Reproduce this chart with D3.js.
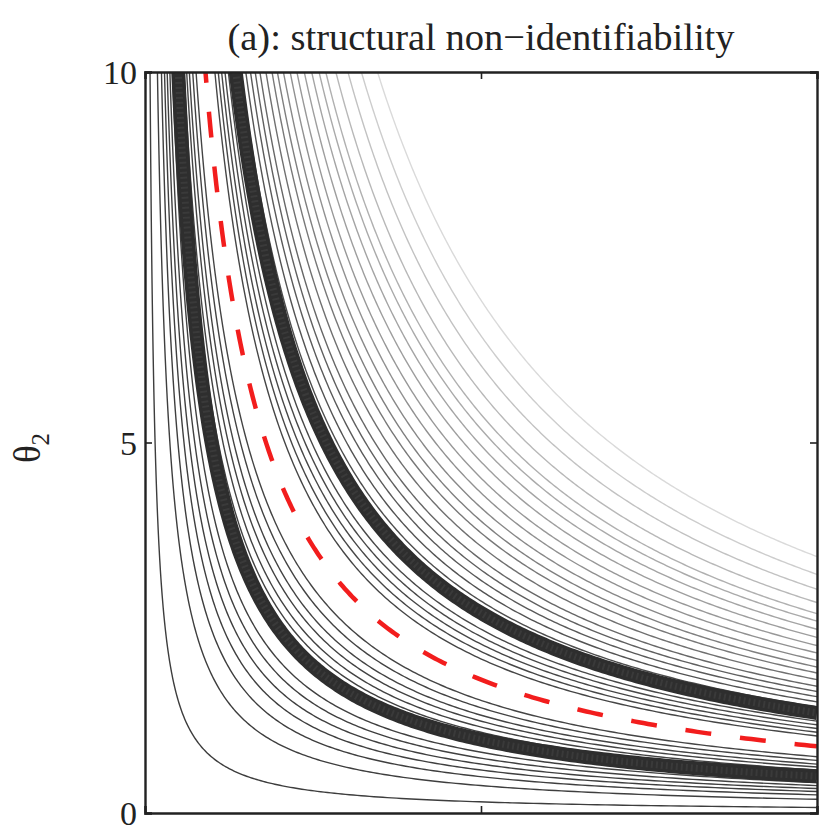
<!DOCTYPE html>
<html>
<head>
<meta charset="utf-8">
<script src="https://cdn.jsdelivr.net/npm/d3@7/dist/d3.min.js"></script>
<style>
  html, body { margin: 0; padding: 0; background: #fff; }
  svg { display: block; }
  text { font-family: "Liberation Serif", "DejaVu Serif", serif; fill: #222; }
</style>
</head>
<body>
<svg id="chart" width="821" height="833"></svg>
<script>
// ---- data ----
const titleText = "(a): structural non\u2212identifiability";
const xTicks = [0, 5, 10];
const yTicks = [0, 5, 10];
const yTickLabels = ["0", "5", "10"];
const xDomain = [0, 10];
const yDomain = [0, 10];
// contour levels of theta1*theta2 (thin grey lines)
const thinLevels = [0.75, 1.85, 2.45, 2.9, 3.3, 3.7, 4.1, 5.45, 5.8, 6.2, 6.6, 7.1, 7.6,
                    10.4, 10.9, 11.4, 11.9, 12.4, 14.3, 15.0, 15.7, 16.4, 17.1, 18.0, 18.9,
                    19.7, 20.6, 21.6, 22.6, 23.7, 24.8, 25.9, 26.9, 28.4, 30.2, 32.2, 34.6];
// thick (confidence-bound) contour levels
const boundLevels = [4.95, 13.5];
// true manifold (red dashed)
const trueLevels = [9.0];

// ---- layout ----
const svg = d3.select("#chart");
const pLeft = 145, pTop = 72, pRight = 817, pBottom = 813;
const x = d3.scaleLinear().domain(xDomain).range([pLeft, pRight]);
const y = d3.scaleLinear().domain(yDomain).range([pBottom, pTop]);

svg.append("defs").append("clipPath").attr("id", "plotclip")
  .append("rect").attr("x", pLeft).attr("y", pTop)
  .attr("width", pRight - pLeft).attr("height", pBottom - pTop);

const plot = svg.append("g").attr("clip-path", "url(#plotclip)");

// level curve theta2 = c / theta1 sampled across the visible theta1 range
function levelCurve(c) {
  const lo = Math.max(c / yDomain[1] * 0.98, 0.005), hi = xDomain[1];
  const n = 260;
  return d3.range(n + 1).map(i => {
    const t1 = lo * Math.pow(hi / lo, i / n);
    return [t1, c / t1];
  });
}
const line = d3.line().x(d => x(d[0])).y(d => y(d[1]));

const grey = d3.scaleLinear().domain([0, 14, 22, 35]).range(["#3c3c3c", "#4a4a4a", "#959595", "#dcdcdc"]).clamp(true);

plot.selectAll("path.thin").data(thinLevels).enter().append("path")
  .attr("class", "thin")
  .attr("d", c => line(levelCurve(c)))
  .attr("fill", "none")
  .attr("stroke", c => grey(c))
  .attr("stroke-width", 1.4);

plot.selectAll("path.bound").data(boundLevels).enter().append("path")
  .attr("class", "bound")
  .attr("d", c => line(levelCurve(c)))
  .attr("fill", "none")
  .attr("stroke", "#2e2e2e")
  .attr("stroke-width", 14);

plot.selectAll("path.boundtex").data(boundLevels).enter().append("path")
  .attr("class", "boundtex")
  .attr("d", c => line(levelCurve(c)))
  .attr("fill", "none")
  .attr("stroke", "#3a3a3a")
  .attr("stroke-width", 7)
  .attr("stroke-dasharray", "2,3");

plot.selectAll("path.truth").data(trueLevels).enter().append("path")
  .attr("class", "truth")
  .attr("d", c => line(levelCurve(c)))
  .attr("fill", "none")
  .attr("stroke", "#f21d1d")
  .attr("stroke-width", 4.5)
  .attr("stroke-dasharray", "26,29");

// ---- axes (MATLAB-like box with inward ticks) ----
const tickLen = 7;
const axB = d3.axisBottom(x).tickValues(xTicks).tickSize(-tickLen).tickFormat("");
const axT = d3.axisTop(x).tickValues(xTicks).tickSize(-tickLen).tickFormat("");
const axL = d3.axisLeft(y).tickValues(yTicks).tickSize(-tickLen).tickPadding(8)
  .tickFormat((d, i) => yTickLabels[i]);
const axR = d3.axisRight(y).tickValues(yTicks).tickSize(-tickLen).tickFormat("");

function style(g) {
  g.selectAll("path.domain").attr("stroke", "#222").attr("stroke-width", 2.4);
  g.selectAll(".tick line").attr("stroke", "#222").attr("stroke-width", 1.6);
}
svg.append("g").attr("transform", `translate(0,${pBottom})`).call(axB).call(style);
svg.append("g").attr("transform", `translate(0,${pTop})`).call(axT).call(style);
svg.append("g").attr("transform", `translate(${pRight},0)`).call(axR).call(style);
const gl = svg.append("g").attr("transform", `translate(${pLeft},0)`).call(axL).call(style);
gl.selectAll(".tick text")
  .attr("font-family", "'Liberation Serif', serif")
  .attr("font-size", 34)
  .attr("fill", "#1a1a1a")
  .attr("dy", "0.34em");

// ---- title ----
svg.append("text")
  .attr("x", (pLeft + pRight) / 2)
  .attr("y", 50)
  .attr("text-anchor", "middle")
  .attr("font-size", 38.5)
  .attr("fill", "#1a1a1a")
  .text(titleText);

// ---- y label ----
const yl = svg.append("text")
  .attr("transform", `translate(40,448) rotate(-90)`)
  .attr("text-anchor", "middle")
  .attr("font-size", 37)
  .attr("fill", "#1a1a1a");
yl.append("tspan").text("\u03B8");
yl.append("tspan").attr("font-size", 25).attr("dy", 9).text("2");
</script>
</body>
</html>
